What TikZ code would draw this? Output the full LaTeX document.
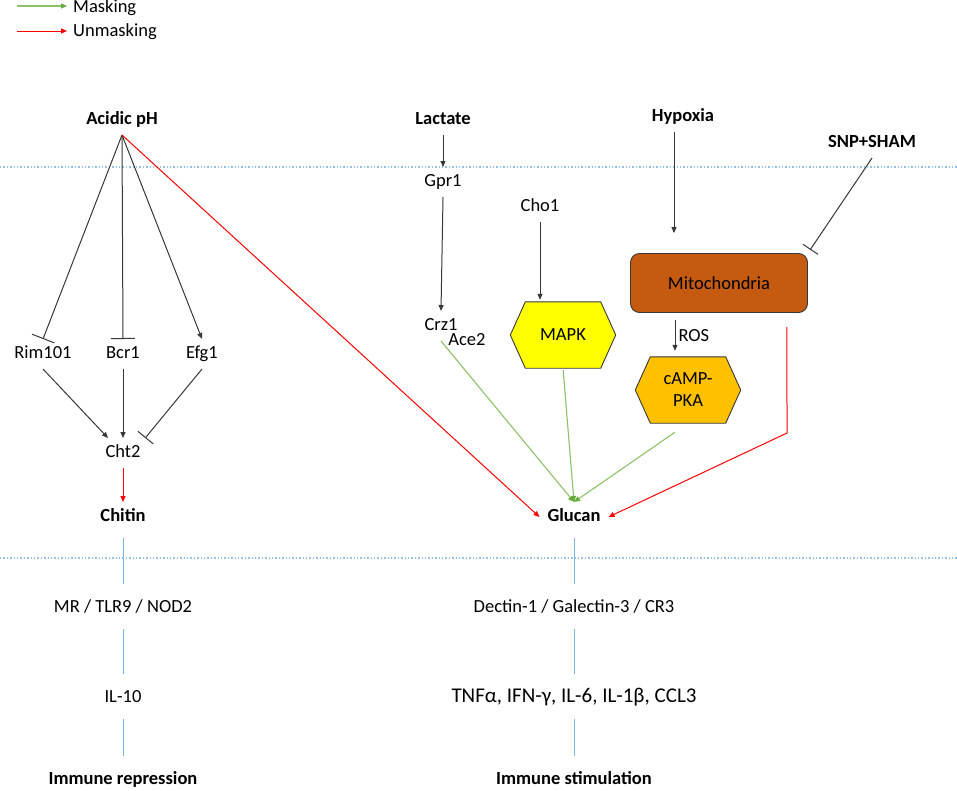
\documentclass[tikz,border=0pt]{standalone}
\usepackage{fontspec}
\setmainfont{Carlito}
\usepackage{tikz}
\usetikzlibrary{arrows.meta,backgrounds}

\definecolor{linegray}{RGB}{55,55,55}
\definecolor{maskgreen}{RGB}{140,192,105}
\definecolor{tipgreen}{RGB}{100,170,60}
\definecolor{unmaskred}{RGB}{255,0,0}
\definecolor{recepblue}{RGB}{125,178,228}
\definecolor{sepblue}{RGB}{150,192,230}
\definecolor{mapkyellow}{RGB}{255,255,0}
\definecolor{pkaorange}{RGB}{255,192,0}
\definecolor{mitobrown}{RGB}{197,90,17}

\newcommand{\hexfill}[2]{%
  \filldraw[draw=linegray, fill=#2, line width=0.9pt]
    (#1.west) -- ([xshift=15pt]#1.north west) -- ([xshift=-15pt]#1.north east)
    -- (#1.east) -- ([xshift=-15pt]#1.south east) -- ([xshift=15pt]#1.south west) -- cycle;}

\begin{document}
\begin{tikzpicture}[x=1pt, y=-1pt, font=\fontsize{18.5}{22}\selectfont,
  lbl/.style={inner sep=3pt, outer sep=5pt, text height=11pt, text depth=3pt},
  keylbl/.style={lbl, font=\fontsize{18.5}{22}\selectfont\bfseries},
  hexbox/.style={minimum width=105pt, minimum height=66pt, inner sep=0pt, align=center},
  act/.style={draw=linegray, line width=1pt, -{Triangle[length=6pt,width=5pt]}},
  inh/.style={draw=linegray, line width=1pt, -{Bar[width=#1]}},
  inh/.default=24pt,
  maskarr/.style={draw=maskgreen, line width=1.1pt, -{Triangle[length=6pt,width=5pt,color=tipgreen]}},
  unmaskarr/.style={draw=unmaskred, line width=1pt, -{Triangle[length=6pt,width=5pt]}},
  recep/.style={draw=recepblue, line width=0.9pt, shorten <=6pt, shorten >=9pt},
  membrane/.style={draw=sepblue, line width=1.4pt, dash pattern=on 1.4pt off 2pt}]
  \useasboundingbox (0,0) rectangle (957,790);

  % legend
  \coordinate (maskfrom) at (17,6);
  \coordinate (unmaskfrom) at (17,31);
  \node[anchor=west, inner sep=3pt, text height=11pt, text depth=3pt] (masklbl) at (70,8) {Masking};
  \node[anchor=west, inner sep=3pt, text height=11pt, text depth=3pt] (unmasklbl) at (70,32) {Unmasking};
  \draw[maskarr, shorten >=3pt] (maskfrom) -- (masklbl.west |- maskfrom);
  \draw[unmaskarr, shorten >=3pt] (unmaskfrom) -- (unmasklbl.west |- unmaskfrom);

  % membrane
  \draw[membrane] (0,167) -- (957,167);
  \draw[membrane] (0,558) -- (957,558);

  % chitin side
  \node[keylbl] (acid) at (122,120) {Acidic pH};
  \node[lbl] (rim) at (43,354) {Rim101};
  \node[lbl] (bcr) at (123,354) {Bcr1};
  \node[lbl] (efg) at (202,354) {Efg1};
  \node[lbl] (cht) at (123,453) {Cht2};
  \node[keylbl] (chitin) at (123,517) {Chitin};
  \node[lbl] (mr) at (123,608) {MR / TLR9 / NOD2};
  \node[lbl] (il10) at (123,698) {IL-10};
  \node[keylbl] (repress) at (123,780) {Immune repression};

  % glucan side
  \node[keylbl] (lactate) at (443,120) {Lactate};
  \node[lbl] (gpr) at (443,182) {Gpr1};
  \node[lbl] (cho) at (540,207) {Cho1};
  \node[lbl] (crz) at (441,326) {Crz1};
  \node[lbl] (ace) at (467,341) {Ace2};
  \node[hexbox] (mapk) at (563,335) {MAPK};
  \node[keylbl] (hypoxia) at (683,117) {Hypoxia};
  \node[keylbl] (snp) at (872,143) {SNP+SHAM};
  \node[draw=linegray, line width=0.9pt, fill=mitobrown, rounded corners=9pt,
    minimum width=177pt, minimum height=59pt] (mito) at (719,283) {Mitochondria};
  \node[hexbox] (pka) at (688,390) {cAMP-\\PKA};
  \node[keylbl] (glucan) at (574,517) {Glucan};
  \node[lbl] (dectin) at (574,608) {Dectin-1 / Galectin-3 / CR3};
  \node[lbl, font=\fontsize{21}{25}\selectfont] (cyto) at (574,698) {TNFα, IFN-γ, IL-6, IL-1β, CCL3};
  \node[keylbl] (stim) at (574,780) {Immune stimulation};

  \begin{scope}[on background layer]
    \hexfill{mapk}{mapkyellow}
    \hexfill{pka}{pkaorange}
  \end{scope}

  % acidic pH
  \draw[inh] (acid.south) -- (rim.north);
  \draw[inh] (acid.south) -- (bcr.north);
  \draw[act] (acid.south) -- (efg.north);
  \draw[unmaskarr] (acid.south) -- (glucan.west);
  \draw[act] (rim.south) -- (cht.135);
  \draw[act] (bcr.south) -- (cht.north);
  \draw[inh=20pt] (efg.south) -- (cht.34);
  \draw[unmaskarr] (cht.south) -- (chitin.north);
  \draw[recep] (chitin.south) -- (mr.north);
  \draw[recep] (mr.south) -- (il10.north);
  \draw[recep] (il10.south) -- (repress.north);

  % lactate, Cho1
  \draw[act] (lactate.south) -- (gpr.north);
  \draw[act] (gpr.south) -- (crz.north);
  \draw[act, shorten >=2pt] (cho.south) -- (cho.south |- mapk.north);
  \draw[maskarr] (crz.south) -- (glucan.north);
  \draw[maskarr, shorten <=2pt] (mapk.south) -- (glucan.north);
  \draw[maskarr] ([xshift=-13pt,yshift=-9pt]pka.south) -- (glucan.north);

  % hypoxia, SNP+SHAM
  \draw[act] ([xshift=-9pt]hypoxia.south) -- ([xshift=-45pt,yshift=20pt]mito.north);
  \draw[inh=18pt, shorten >=4pt] (snp.south) -- (mito.north east);
  \draw[act] ([xshift=-44pt,yshift=-7pt]mito.south) -- ([xshift=-13pt,yshift=6pt]pka.north)
    node[midway, right, inner sep=3pt] (ros) {ROS};
  \coordinate (mitobend) at (787,433);
  \draw[unmaskarr] ([xshift=-21pt,yshift=-14pt]mito.south east) -- (mitobend) -- (glucan.east);
  \draw[recep] (glucan.south) -- (dectin.north);
  \draw[recep] (dectin.south) -- (cyto.north);
  \draw[recep] (cyto.south) -- (stim.north);
\end{tikzpicture}
\end{document}
